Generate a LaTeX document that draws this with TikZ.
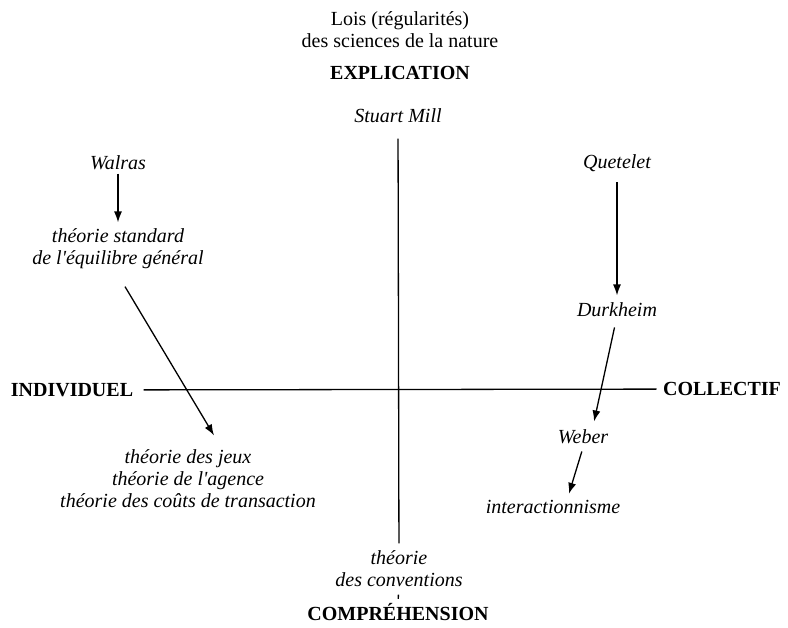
\documentclass[tikz,border=0pt]{standalone}
\usepackage{fontspec}
\setmainfont{Liberation Serif}
\usetikzlibrary{arrows.meta}
\tikzset{
  axis/.style={line width=1.3pt},
  link/.style={-{Latex[length=11pt,width=8pt]},line width=1.3pt},
  pole/.style={font=\fontsize{20}{22}\selectfont\bfseries},
  school/.style={font=\fontsize{20}{22}\selectfont\itshape,align=center},
  plain/.style={font=\fontsize{20}{22}\selectfont,align=center}
}

\begin{document}
\begin{tikzpicture}[x=1pt,y=-1pt]
      \useasboundingbox (0,0) rectangle (788,628);

      \node[plain] (lois) at (400,30) {Lois (régularités)\\des sciences de la nature};
      \node[pole] (expl) at (400,73) {EXPLICATION};
      \node[school] (mill) at (398,116) {Stuart Mill};
      \node[pole] (indiv) at (72,390) {INDIVIDUEL};
      \node[pole] (coll) at (722,389) {COLLECTIF};
      \node[school] (conv) at (399,569) {théorie\\des conventions};
      \node[pole] (compr) at (398,612) {COMPRÉHENSION};

      \node[school] (walras) at (118,163) {Walras};
      \node[school] (standard) at (118,249) {théorie standard\\de l\textquotesingle équilibre général};
      \node[school] (jeux) at (188,479) {théorie des jeux\\théorie de l\textquotesingle agence\\théorie des coûts de transaction};

      \node[school] (quet) at (617,163) {Quetelet};
      \node[school] (durk) at (617,310) {Durkheim};
      \node[school] (weber) at (583,437) {Weber};
      \node[school] (inter) at (553,507) {interactionnisme};

      % axes
      \draw[axis,shorten <=12pt,shorten >=4pt] (mill) -- (conv);
      \draw[axis,shorten <=4pt,shorten >=1pt] (conv) -- (compr);
      \draw[axis,shorten <=7pt,shorten >=3pt] (indiv) -- (coll);

      % filiations
      \draw[link,shorten >=3pt] (walras) -- (standard);
      \draw[link] ([xshift=7pt,yshift=-14pt]standard.south) -- ([xshift=26pt,yshift=11pt]jeux.north);
      \draw[link,shorten <=7pt,shorten >=4pt] (quet) -- (durk);
      \draw[link,shorten <=7pt,shorten >=5pt] ([xshift=-1pt]durk.south) -- ([xshift=10pt]weber.north);
      \draw[link,shorten <=4pt,shorten >=3pt] (weber.south) -- ([xshift=15pt]inter.north);
    \end{tikzpicture}
\end{document}
